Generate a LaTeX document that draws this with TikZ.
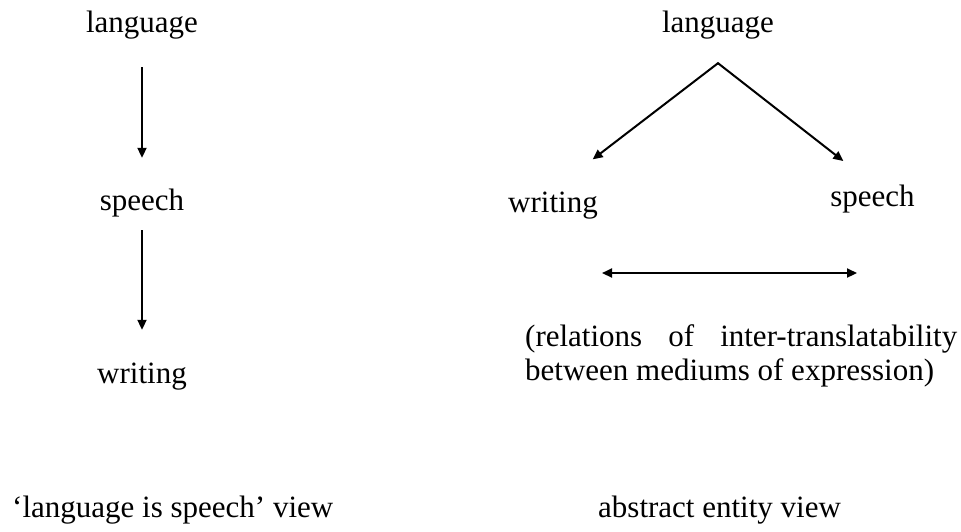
\documentclass[tikz,border=0pt]{standalone}
\usepackage{fontspec}
\setmainfont{Liberation Serif}
\usetikzlibrary{arrows.meta}

\begin{document}
\begin{tikzpicture}[x=1pt, y=1pt,
  word/.style={font=\fontsize{31}{34}\selectfont, inner sep=0pt,
               text height=22pt, text depth=7pt, anchor=base},
  plain/.style={font=\fontsize{31}{34}\selectfont, inner sep=0pt, anchor=base west},
  arr/.style={line width=2pt, -{Triangle[length=10pt, width=9pt]}},
  dblarr/.style={line width=2.2pt, {Triangle[length=10pt, width=9pt]}-{Triangle[length=10pt, width=9pt]}}
]
\useasboundingbox (0,0) rectangle (961,-531);

% left column: language -> speech -> writing
\node[word] (lang1)  at (142,-32)  {language};
\node[word] (speech1) at (142,-210) {speech};
\node[word] (write1) at (142,-383) {writing};
\draw[arr, shorten <=28pt, shorten >=30pt] (lang1.south) -- (speech1.north);
\draw[arr, shorten <=13pt, shorten >=31pt] (speech1.south) -- (write1.north);

% right column: language branching to writing and speech
\node[word] (lang2)   at (718,-32)   {language};
\node[word] (write2)  at (553,-212)  {writing};
\node[word] (speech2) at (872.5,-206) {speech};
\coordinate (apex) at ([yshift=-24pt]lang2.south);
\draw[line width=2pt, line join=miter] ([xshift=-1pt,yshift=-1pt]apex) -- (apex) -- ([xshift=1pt,yshift=-1pt]apex);
\draw[arr, shorten >=50pt] (apex) -- (write2.north);
\draw[arr, shorten >=37pt] (apex) -- (speech2.north);

% two-way relation between the media
\coordinate (relL) at (602,-273);
\coordinate (relR) at (857,-273);
\draw[dblarr] (relL) -- (relR);

\node[plain] (rel1) at (525,-346) {\hbox to 432pt{(relations\hfill of\hfill inter-translatability}};
\node[plain] (rel2) at (525,-380) {between mediums of expression)};

% captions
\node[plain] (capL) at (12,-517)  {‘language is speech’ view};
\node[plain] (capR) at (598,-517) {abstract entity view};
\end{tikzpicture}
\end{document}
